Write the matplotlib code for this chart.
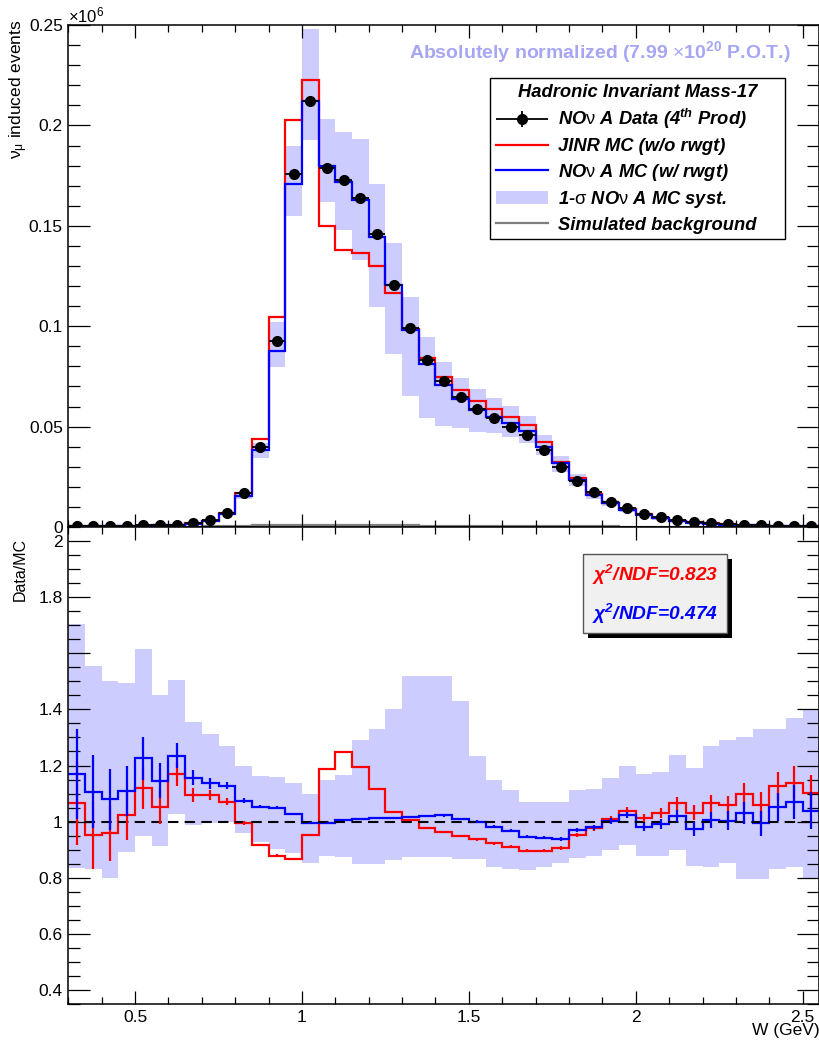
import numpy as np
import matplotlib
matplotlib.use("Agg")
import matplotlib.pyplot as plt
from matplotlib.lines import Line2D
from matplotlib.patches import Patch, Rectangle
from matplotlib.ticker import MultipleLocator, FuncFormatter
from matplotlib.legend_handler import HandlerErrorbar

plt.rcParams['font.family'] = ['Liberation Sans', 'DejaVu Sans']
plt.rcParams['mathtext.fontset'] = 'custom'
plt.rcParams['mathtext.rm'] = 'Liberation Sans'
plt.rcParams['mathtext.it'] = 'Liberation Sans:italic'
plt.rcParams['mathtext.bf'] = 'Liberation Sans:italic:bold'
plt.rcParams['mathtext.sf'] = 'Liberation Sans:bold'

# W binning (GeV), 45 bins of 0.05
edges = np.round(np.linspace(0.30, 2.55, 46), 3)
centers = 0.5 * (edges[:-1] + edges[1:])

# event counts in units of 1e6
nova_data = [0.0003, 0.0004, 0.0005, 0.0006, 0.0008, 0.0010, 0.0012, 0.0020, 0.0033, 0.0072,
             0.0168, 0.0400, 0.0925, 0.1756, 0.2120, 0.1790, 0.1726, 0.1640, 0.1458, 0.1207,
             0.0993, 0.0831, 0.0726, 0.0648, 0.0589, 0.0544, 0.0499, 0.0458, 0.0383, 0.0297,
             0.0230, 0.0172, 0.0126, 0.0093, 0.0065, 0.0048, 0.0035, 0.0025, 0.0020, 0.0015,
             0.0012, 0.0009, 0.0007, 0.0006, 0.0005]
nova_mc = [0.0003, 0.0003, 0.0004, 0.0005, 0.0006, 0.0009, 0.0010, 0.0017, 0.0029, 0.0064,
           0.0153, 0.0383, 0.0876, 0.1710, 0.2124, 0.1798, 0.1718, 0.1627, 0.1444, 0.1204,
           0.0980, 0.0814, 0.0706, 0.0637, 0.0585, 0.0549, 0.0516, 0.0478, 0.0400, 0.0317,
           0.0234, 0.0159, 0.0118, 0.0085, 0.0061, 0.0043, 0.0030, 0.0022, 0.0016, 0.0012,
           0.0010, 0.0008, 0.0006, 0.0005, 0.0004]
jinr_mc = [0.0003, 0.0004, 0.0005, 0.0006, 0.0007, 0.0009, 0.0010, 0.0018, 0.0030, 0.0068,
           0.0170, 0.0436, 0.1046, 0.2025, 0.2224, 0.1500, 0.1378, 0.1365, 0.1300, 0.1163,
           0.0985, 0.0844, 0.0748, 0.0682, 0.0628, 0.0587, 0.0549, 0.0507, 0.0421, 0.0325,
           0.0242, 0.0165, 0.0122, 0.0090, 0.0063, 0.0045, 0.0032, 0.0023, 0.0018, 0.0013,
           0.0011, 0.0008, 0.0006, 0.0005, 0.0004]
syst_lo = [0.0002, 0.0002, 0.0003, 0.0004, 0.0005, 0.0007, 0.0008, 0.0014, 0.0025, 0.0058,
           0.0138, 0.0342, 0.0797, 0.1550, 0.1925, 0.1620, 0.1480, 0.1330, 0.1096, 0.0861,
           0.0653, 0.0541, 0.0502, 0.0491, 0.0474, 0.0466, 0.0446, 0.0419, 0.0358, 0.0275,
           0.0204, 0.0140, 0.0104, 0.0075, 0.0053, 0.0037, 0.0026, 0.0019, 0.0014, 0.0010,
           0.0008, 0.0007, 0.0005, 0.0004, 0.0003]
syst_hi = [0.0005, 0.0005, 0.0006, 0.0007, 0.0009, 0.0012, 0.0014, 0.0022, 0.0036, 0.0072,
           0.0170, 0.0420, 0.1021, 0.1900, 0.2480, 0.2030, 0.1967, 0.1930, 0.1706, 0.1414,
           0.1144, 0.0944, 0.0823, 0.0743, 0.0685, 0.0643, 0.0603, 0.0554, 0.0458, 0.0353,
           0.0264, 0.0180, 0.0134, 0.0097, 0.0070, 0.0050, 0.0035, 0.0026, 0.0019, 0.0014,
           0.0012, 0.0010, 0.0007, 0.0006, 0.0005]
background = [0.0, 0.0, 0.0, 0.0, 0.0, 0.0, 0.0001, 0.0002, 0.0003, 0.0004,
              0.0006, 0.0008, 0.0010, 0.0012, 0.0012, 0.0011, 0.0010, 0.0010, 0.0009, 0.0009,
              0.0008, 0.0007, 0.0007, 0.0006, 0.0006, 0.0005, 0.0005, 0.0005, 0.0004, 0.0004,
              0.0003, 0.0003, 0.0003, 0.0002, 0.0002, 0.0002, 0.0002, 0.0001, 0.0001, 0.0001,
              0.0001, 0.0001, 0.0001, 0.0001, 0.0001]

# Data/MC ratios
ratio_nova = [1.170, 1.106, 1.079, 1.110, 1.225, 1.146, 1.235, 1.156, 1.136, 1.128,
              1.075, 1.053, 1.050, 1.027, 0.994, 0.996, 1.005, 1.009, 1.012, 1.012,
              1.017, 1.020, 1.022, 1.009, 1.000, 0.982, 0.967, 0.946, 0.943, 0.938,
              0.970, 0.980, 1.003, 1.024, 0.980, 0.991, 1.020, 0.973, 1.006, 1.003,
              1.030, 0.994, 1.053, 1.071, 1.039]
ratio_nova_err = [0.160, 0.130, 0.110, 0.090, 0.077, 0.063, 0.044, 0.027, 0.020, 0.013,
                  0.008, 0.005, 0.004, 0.003, 0.003, 0.003, 0.003, 0.003, 0.003, 0.003,
                  0.004, 0.004, 0.004, 0.004, 0.005, 0.005, 0.005, 0.006, 0.006, 0.007,
                  0.008, 0.009, 0.010, 0.012, 0.015, 0.018, 0.022, 0.026, 0.030, 0.034,
                  0.040, 0.045, 0.050, 0.060, 0.065]
ratio_jinr = [1.065, 0.952, 0.960, 1.023, 1.120, 1.051, 1.170, 1.095, 1.095, 1.071,
              0.996, 0.917, 0.879, 0.868, 0.952, 1.187, 1.249, 1.196, 1.115, 1.035,
              1.006, 0.976, 0.964, 0.949, 0.937, 0.923, 0.911, 0.896, 0.896, 0.907,
              0.952, 0.976, 1.009, 1.039, 1.012, 1.030, 1.065, 1.032, 1.065, 1.059,
              1.097, 1.059, 1.128, 1.139, 1.101]
ratio_jinr_err = [0.150, 0.120, 0.100, 0.090, 0.075, 0.060, 0.042, 0.026, 0.019, 0.012,
                  0.008, 0.005, 0.004, 0.003, 0.003, 0.003, 0.003, 0.003, 0.003, 0.003,
                  0.004, 0.004, 0.004, 0.004, 0.005, 0.005, 0.005, 0.006, 0.006, 0.007,
                  0.008, 0.009, 0.010, 0.012, 0.015, 0.018, 0.022, 0.026, 0.030, 0.034,
                  0.040, 0.045, 0.050, 0.060, 0.065]
ratio_syst_lo = [0.834, 0.830, 0.798, 0.890, 0.949, 0.913, 1.026, 0.988, 0.994, 1.000,
                 0.960, 0.928, 0.901, 0.887, 0.851, 0.877, 0.873, 0.849, 0.850, 0.863,
                 0.873, 0.873, 0.873, 0.868, 0.868, 0.839, 0.830, 0.829, 0.837, 0.851,
                 0.869, 0.877, 0.899, 0.917, 0.877, 0.877, 0.899, 0.842, 0.839, 0.851,
                 0.795, 0.795, 0.830, 0.839, 0.798]
ratio_syst_hi = [1.704, 1.555, 1.502, 1.495, 1.615, 1.451, 1.504, 1.356, 1.311, 1.269,
                 1.199, 1.161, 1.160, 1.136, 1.100, 1.150, 1.166, 1.290, 1.330, 1.400,
                 1.520, 1.520, 1.520, 1.430, 1.234, 1.148, 1.112, 1.071, 1.070, 1.071,
                 1.112, 1.117, 1.154, 1.200, 1.170, 1.178, 1.237, 1.190, 1.270, 1.290,
                 1.300, 1.330, 1.330, 1.370, 1.400]

chi2_jinr = 0.823
chi2_nova = 0.474

band_color = '#ccccff'
tick_fs = 12.5

fig = plt.figure(figsize=(8.2, 10.43), dpi=100)
ax1 = fig.add_axes([0.0833, 0.4947, 0.9159, 0.4813])
ax2 = fig.add_axes([0.0833, 0.0374, 0.9159, 0.4573])

# --- top panel: event distributions
ax1.stairs(syst_hi, edges, baseline=syst_lo, fill=True, color=band_color, lw=0)
ax1.stairs(background, edges, color='#7f7f7f', lw=1.6)
ax1.stairs(jinr_mc, edges, color='red', lw=1.6)
ax1.stairs(nova_mc, edges, color='blue', lw=1.6)
data_err = np.sqrt(np.array(nova_data) * 1e6) / 1e6
hdata = ax1.errorbar(centers, nova_data, xerr=0.025, yerr=data_err, fmt='o', color='black',
                     ms=7, lw=1.3, capsize=0)

ax1.set_xlim(0.3, 2.55)
ax1.set_ylim(0, 0.25)
ax1.yaxis.set_major_locator(MultipleLocator(0.05))
ax1.yaxis.set_minor_locator(MultipleLocator(0.01))
ax1.yaxis.set_major_formatter(FuncFormatter(lambda v, p: '%g' % round(v, 3)))
ax1.tick_params(labelbottom=False)
ax1.text(0.0, 1.0, r'$\times10^{6}$', transform=ax1.transAxes, ha='left', va='bottom',
         fontsize=12)

ax1.text(0.962, 0.947, r'Absolutely normalized (7.99 $\times$10$^{\mathsf{20}}$ P.O.T.)',
         transform=ax1.transAxes, ha='right', va='center', color='#a6a6f5',
         fontsize=14, fontweight='bold')

handles = [
    hdata,
    Line2D([], [], color='red', lw=1.6),
    Line2D([], [], color='blue', lw=1.6),
    Patch(facecolor=band_color, edgecolor='none'),
    Line2D([], [], color='#7f7f7f', lw=1.6),
]
labels = [
    r'NO$\mathrm{\nu}$ A Data (4$^{\mathbf{th}}$ Prod)',
    'JINR MC (w/o rwgt)',
    r'NO$\mathrm{\nu}$ A MC (w/ rwgt)',
    r'1-$\mathrm{\sigma}$ NO$\mathrm{\nu}$ A MC syst.',
    'Simulated background',
]
leg = ax1.legend(handles, labels, loc='upper left', mode='expand',
                 bbox_to_anchor=(0.5615, 0.60, 0.3928, 0.294),
                 borderaxespad=0, title='Hadronic Invariant Mass-17', fancybox=False,
                 framealpha=1, edgecolor='black', handlelength=2.85, handletextpad=0.55,
                 labelspacing=0.36, borderpad=0.3,
                 handler_map={hdata: HandlerErrorbar(xerr_size=1.42, yerr_size=0.45)},
                 prop={'size': 13.2, 'weight': 'bold', 'style': 'italic'},
                 title_fontproperties={'size': 13.2, 'weight': 'bold', 'style': 'italic'})
leg.get_frame().set_linewidth(1.0)

# --- bottom panel: Data/MC ratios
ax2.stairs(ratio_syst_hi, edges, baseline=ratio_syst_lo, fill=True, color=band_color, lw=0)
ax2.axhline(1.0, color='black', lw=1.5, ls=(0, (5, 3)))
ax2.stairs(ratio_jinr, edges, color='red', lw=1.6, baseline=None)
ax2.errorbar(centers, ratio_jinr, yerr=ratio_jinr_err, fmt='none', ecolor='red', lw=1.6)
ax2.stairs(ratio_nova, edges, color='blue', lw=1.6, baseline=None)
ax2.errorbar(centers, ratio_nova, yerr=ratio_nova_err, fmt='none', ecolor='blue', lw=1.6)

ax2.set_xlim(0.3, 2.55)
ax2.set_ylim(0.35, 2.05)
ax2.yaxis.set_major_locator(MultipleLocator(0.2))
ax2.yaxis.set_minor_locator(MultipleLocator(0.05))
ax2.yaxis.set_major_formatter(
    FuncFormatter(lambda v, p: '' if abs(v - 1.6) < 1e-6 else '%g' % round(v, 3)))
ax2.xaxis.set_major_formatter(FuncFormatter(lambda v, p: '%g' % round(v, 3)))

# chi2 box with drop shadow
ax2.add_patch(Rectangle((0.692, 0.768), 0.192, 0.166, transform=ax2.transAxes,
                        facecolor='black', edgecolor='none', zorder=5))
ax2.add_patch(Rectangle((0.685, 0.778), 0.192, 0.166, transform=ax2.transAxes,
                        facecolor='#f0f0f0', edgecolor='#555555', lw=1.0, zorder=6))
ax2.text(0.781, 0.900, r'χ$^{\mathbf{2}}$/NDF=%.3f' % chi2_jinr, transform=ax2.transAxes,
         ha='center', va='center', color='red', fontsize=13.8, fontweight='bold',
         fontstyle='italic', zorder=7)
ax2.text(0.781, 0.818, r'χ$^{\mathbf{2}}$/NDF=%.3f' % chi2_nova, transform=ax2.transAxes,
         ha='center', va='center', color='blue', fontsize=13.8, fontweight='bold',
         fontstyle='italic', zorder=7)

for ax in (ax1, ax2):
    ax.xaxis.set_major_locator(MultipleLocator(0.5))
    ax.xaxis.set_minor_locator(MultipleLocator(0.1))
    ax.tick_params(which='both', direction='in', top=True, right=True, width=0.9,
                   labelsize=tick_fs, pad=4)
    ax.tick_params(axis='y', which='major', length=16)
    ax.tick_params(axis='y', which='minor', length=8.5)
    ax.tick_params(axis='x', which='major', length=9.5)
    ax.tick_params(axis='x', which='minor', length=5)
    for s in ax.spines.values():
        s.set_linewidth(1.1)

fig.text(19 / 820, 1 - 20 / 1043, r'$\mathrm{\nu}_{\mathrm{\mu}}$ induced events', rotation=90,
         ha='center', va='top', fontsize=12.5)
fig.text(20 / 820, 1 - 538 / 1043, 'Data/MC', rotation=90, ha='center', va='top',
         fontsize=11.5)
fig.text(0.999, 1 - 1030 / 1043, 'W (GeV)', ha='right', va='center', fontsize=12.5)

fig.savefig('out.png', dpi=100)
